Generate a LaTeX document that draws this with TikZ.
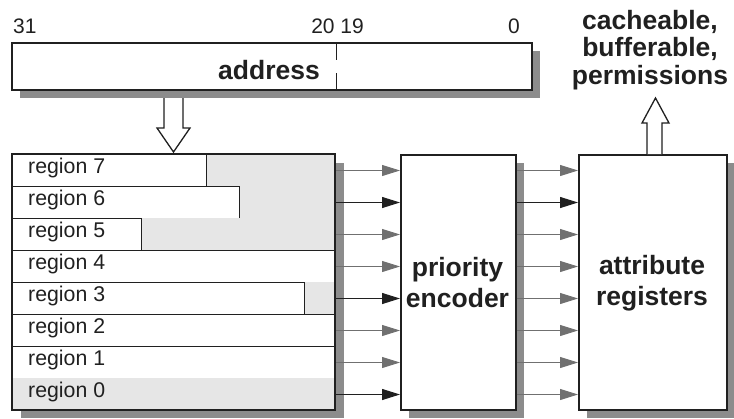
\documentclass[tikz,border=0pt]{standalone}
\usepackage{fontspec}
\setmainfont{Liberation Sans}
\usetikzlibrary{arrows.meta}
\definecolor{shadowgray}{HTML}{8C8C8C}
\definecolor{lightfill}{HTML}{E6E6E6}
\definecolor{arrowgray}{HTML}{707070}
\definecolor{inkblack}{HTML}{202020}
\begin{document}
\begin{tikzpicture}[x=1pt,y=-1pt,
  frame/.style={draw=inkblack,line width=1.6pt,fill=white,inner sep=0pt,anchor=north west},
  rowbox/.style={draw=inkblack,line width=1pt,fill=white,minimum width=323pt,minimum height=32pt,inner sep=0pt,anchor=north west},
  rowlbl/.style={font=\fontsize{21.3}{25}\selectfont,text=inkblack,inner sep=0pt,anchor=base west},
  numlbl/.style={font=\fontsize{21}{25}\selectfont,text=inkblack,inner sep=0pt,anchor=base},
  biglbl/.style={font=\bfseries\fontsize{26.5}{31}\selectfont,text=inkblack,inner sep=0pt,align=center},
  garrow/.style={draw=arrowgray,line width=0.9pt,-{Triangle[length=18pt,width=11pt]},arrowgray},
  barrow/.style={draw=inkblack,line width=1.1pt,-{Triangle[length=18pt,width=11pt]},inkblack},
  hollow/.style={draw=inkblack,line width=1.3pt,fill=white,line join=miter}
]
\useasboundingbox (0,0) rectangle (734,418);

% shadows
\fill[shadowgray] (20,51) rectangle (540,98);
\fill[shadowgray] (21,163) rectangle (344,418);
\fill[shadowgray] (409,163) rectangle (524,418);
\fill[shadowgray] (587,163) rectangle (735,418);

% address register
\node[frame,minimum width=520pt,minimum height=47pt] (addr) at (11,42) {};
\node[biglbl,anchor=base east] (addrtxt) at (320,79) {address};
\draw[inkblack,line width=1pt] (336,42) -- (336,60);
\draw[inkblack,line width=1pt] (336,73) -- (336,89);
\node[numlbl,anchor=base west] (b31) at (13,33) {31};
\node[numlbl,anchor=base east] (b2019) at (364,33) {20 19};
\node[numlbl,anchor=base east] (b0) at (520,33) {0};

% hollow arrow down
\draw[hollow] (164,98) -- (164,128) -- (157,128) -- (173.5,152) -- (190,128) -- (183,128) -- (183,98);

% region rows
\foreach \i/\g in {7/206,6/239,5/141,4/335,3/304,2/335,1/335,0/12}{
  \pgfmathsetmacro{\ytop}{154+(7-\i)*32}
  \node[rowbox] (r\i) at (12,\ytop) {};
  \ifnum\g<335
    \fill[lightfill] (\g,\ytop) rectangle (335,\ytop+32);
    \draw[inkblack,line width=1pt] (\g,\ytop) -- (\g,\ytop+32);
  \fi
  \node[rowlbl] (t\i) at (28,\ytop+19.5) {region \i};
}
\draw[inkblack,line width=1.6pt] (12,154) rectangle (335,410);

% priority encoder and attribute registers
\node[frame,minimum width=115pt,minimum height=255pt] (pe) at (400,154) {};
\node[biglbl] (petxt) at (457.5,283) {priority\\encoder};
\node[frame,minimum width=148pt,minimum height=255pt] (ar) at (578,154) {};
\node[biglbl] (artxt) at (652,283) {attribute\\registers};

% arrows region -> encoder
\foreach \i in {7,5,4,2,1}{
  \draw[garrow] (r\i.east) -- (pe.west |- r\i.east);
}
\foreach \i in {6,3,0}{
  \draw[barrow] (r\i.east) -- (pe.west |- r\i.east);
}
% arrows encoder -> attribute registers
\foreach \i in {7,5,4,3,2,1,0}{
  \draw[garrow] (pe.east |- r\i.east) -- (ar.west |- r\i.east);
}
\draw[barrow] (pe.east |- r6.east) -- (ar.west |- r6.east);

% hollow arrow up
\draw[hollow] (647,154) -- (647,123) -- (642,123) -- (655.5,98) -- (669,123) -- (662,123) -- (662,154);
\node[biglbl,font=\bfseries\fontsize{26.5}{27.5}\selectfont] (outtxt) at (650,50) {cacheable,\\bufferable,\\permissions};
\end{tikzpicture}
\end{document}
